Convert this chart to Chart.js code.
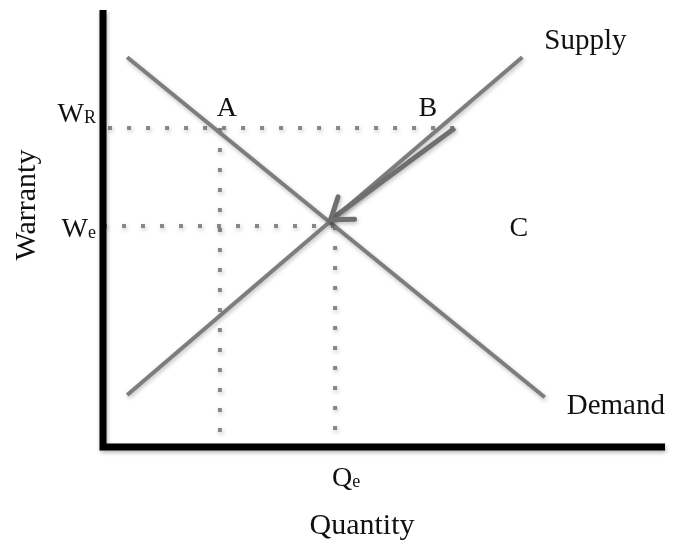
<!DOCTYPE html>
<html>
<head>
<meta charset="utf-8">
<script src="https://cdn.jsdelivr.net/npm/chart.js@4.4.1/dist/chart.umd.min.js"></script>
<style>
  html, body { margin: 0; padding: 0; background: #fff; }
  #wrap { position: relative; width: 673px; height: 542px; }
</style>
</head>
<body>
<div id="wrap"><canvas id="chart"></canvas></div>
<script>
// values, both axes on a 0-100 scale
const supplyQ = [4.3, 74.6];
const supplyW = [11.9, 89.2];
const demandQ = [4.3, 78.6];
const demandW = [89.2, 11.4];
const levelW = [73.0, 50.6];      // W_R, W_e
const levelQ = [20.8, 41.3];      // A, Q_e
const guideFromQ = [0.9, 0];      // left end of the dotted W lines
const guideToQ = [62.6, 41.3];    // right end: B, Q_e
const arrowQ = [62.6, 40.5];      // B -> equilibrium
const arrowW = [73.0, 52.0];
const pointC = [74, 50.6];

const pts = (xs, ys) => xs.map((x, i) => ({ x, y: ys[i] }));
const LINE = '#7d7d7d', DOTS = '#878787', INK = '#111';
const SERIF = '"Liberation Serif", "Times New Roman", serif';

const dotted = (data, dash) => ({ data, borderColor: DOTS, borderWidth: 4, borderDash: dash, order: 3 });

const datasets = [
  { label: 'Supply', data: pts(supplyQ, supplyW), borderColor: LINE, borderWidth: 4, order: 2 },
  { label: 'Demand', data: pts(demandQ, demandW), borderColor: LINE, borderWidth: 4, order: 2 },
  dotted(pts([guideFromQ[0], guideToQ[0]], [levelW[0], levelW[0]]), [4, 15]),
  dotted(pts([guideFromQ[1], guideToQ[1]], [levelW[1], levelW[1]]), [4, 15]),
  dotted(pts([levelQ[0], levelQ[0]], [levelW[0], 0]), [4, 16]),
  dotted(pts([levelQ[1], levelQ[1]], [levelW[1], 0]), [4, 16]),
  { label: 'arrow', data: pts(arrowQ, arrowW), borderColor: '#6f6f6f', borderWidth: 5, order: 1, arrow: true }
];

// soft shadow under the marks, arrow head and the two heavy axes
const decor = {
  id: 'decor',
  beforeDatasetsDraw(chart) {
    const ctx = chart.ctx;
    ctx.save();
    ctx.shadowColor = 'rgba(0,0,0,0.25)';
    ctx.shadowBlur = 4;
    ctx.shadowOffsetX = 1;
    ctx.shadowOffsetY = 2;
  },
  afterDatasetsDraw(chart) {
    const { ctx, chartArea: a } = chart;
    chart.data.datasets.forEach((ds, i) => {
      if (!ds.arrow) return;
      const [p0, p1] = chart.getDatasetMeta(i).data;
      const ang = Math.atan2(p1.y - p0.y, p1.x - p0.x) + Math.PI;
      ctx.strokeStyle = ds.borderColor;
      ctx.lineWidth = 5;
      ctx.lineCap = 'round';
      [-0.62, 0.62].forEach(s => {
        ctx.beginPath();
        ctx.moveTo(p1.x, p1.y);
        ctx.lineTo(p1.x + 24 * Math.cos(ang + s), p1.y + 24 * Math.sin(ang + s));
        ctx.stroke();
      });
    });
    // axes
    ctx.shadowColor = 'rgba(0,0,0,0.3)';
    ctx.strokeStyle = '#000';
    ctx.lineWidth = 7;
    ctx.lineCap = 'butt';
    ctx.lineJoin = 'miter';
    ctx.beginPath();
    ctx.moveTo(a.left, a.top);
    ctx.lineTo(a.left, a.bottom);
    ctx.lineTo(a.right, a.bottom);
    ctx.stroke();
    ctx.restore();
  }
};

function subText(ctx, main, small, x, y, align) {
  ctx.font = '28px ' + SERIF;
  const w1 = ctx.measureText(main).width;
  ctx.font = '18px ' + SERIF;
  const w2 = ctx.measureText(small).width;
  let left = align === 'right' ? x - w1 - w2 : x;
  ctx.textAlign = 'left';
  ctx.font = '28px ' + SERIF;
  ctx.fillText(main, left, y);
  ctx.font = '18px ' + SERIF;
  ctx.fillText(small, left + w1, y + 1);
}

const labels = {
  id: 'labels',
  afterDraw(chart) {
    const { ctx, scales: { x, y } } = chart;
    const px = v => x.getPixelForValue(v), py = v => y.getPixelForValue(v);
    ctx.save();
    ctx.fillStyle = INK;
    ctx.textBaseline = 'alphabetic';

    subText(ctx, 'W', 'R', 96, py(levelW[0]) - 6, 'right');
    subText(ctx, 'W', 'e', 96, py(levelW[1]) + 11, 'right');
    subText(ctx, 'Q', 'e', px(levelQ[1]) - 3, 486, 'left');

    ctx.font = '28px ' + SERIF;
    ctx.textAlign = 'center';
    ctx.fillText('A', px(levelQ[0]) + 7, py(levelW[0]) - 12);
    ctx.fillText('B', px(guideToQ[0]) - 27, py(levelW[0]) - 12);
    ctx.fillText('C', px(pointC[0]), py(pointC[1]) + 10);

    ctx.font = '29px ' + SERIF;
    ctx.textAlign = 'left';
    ctx.fillText('Supply', px(supplyQ[1]) + 22, py(supplyW[1]) - 8);
    ctx.fillText('Demand', px(demandQ[1]) + 22, py(demandW[1]) + 17);

    ctx.font = '30px ' + SERIF;
    ctx.textAlign = 'center';
    ctx.fillText('Quantity', 362, 534);
    ctx.translate(27, 205);
    ctx.rotate(-Math.PI / 2);
    ctx.textBaseline = 'middle';
    ctx.fillText('Warranty', 0, 0);
    ctx.restore();
  }
};

new Chart(document.getElementById('chart'), {
  type: 'line',
  data: { datasets },
  options: {
    responsive: true,
    maintainAspectRatio: false,
    animation: false,
    events: [],
    layout: { padding: { left: 103, right: 8, top: 10, bottom: 95 } },
    elements: { point: { radius: 0 }, line: { tension: 0, fill: false } },
    scales: {
      x: { type: 'linear', min: 0, max: 100, display: false },
      y: { type: 'linear', min: 0, max: 100, display: false }
    },
    plugins: { legend: { display: false }, tooltip: { enabled: false } }
  },
  plugins: [decor, labels]
});
</script>
</body>
</html>
